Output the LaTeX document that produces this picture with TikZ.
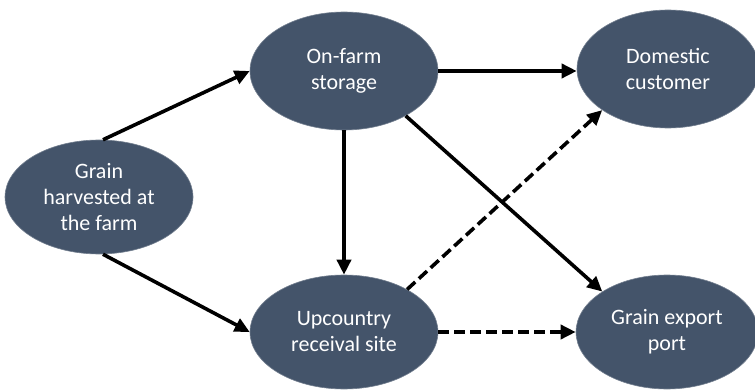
\documentclass[tikz,border=0pt]{standalone}
\usepackage{fontspec}
\setmainfont{Carlito}
\usepackage{xcolor}
\usepackage{tikz}
\usetikzlibrary{arrows.meta,shapes.geometric,calc}
\definecolor{slate}{HTML}{44546A}

\begin{document}
\begin{tikzpicture}[x=1pt,y=1pt, >={Triangle[length=15pt,width=14pt]},
  every node/.style={font=\fontsize{22}{26}\selectfont,align=center},
  stage/.style={ellipse,fill=slate,draw=slate!75!white,line width=0.6pt,text=white,inner sep=0pt,minimum width=188pt,minimum height=116pt},
  flow/.style={->,line width=3.6pt},
  maybe/.style={flow,dash pattern=on 11pt off 5pt}]
\useasboundingbox (0,0) rectangle (755,389);
\node (grain) [stage,minimum height=114pt] at (99,192) {Grain\\harvested at\\the farm};
\node (farm) [stage,minimum height=118pt] at (344,318) {On-farm\\storage};
\node (dom) [stage,minimum width=182pt,minimum height=118pt] at (668,320) {Domestic\\customer};
\node (site) [stage,minimum height=114pt] at (344,57) {Upcountry\\receival site};
\node (port) [stage,minimum width=182pt,minimum height=114pt] at (667,57) {Grain export\\port};
\draw[flow] (grain.86) -- (farm.west);
\draw[flow] (grain.-86) -- (site.west);
\draw[flow] (farm.east) -- (farm.east -| dom.west);
\draw[flow] (farm.south) -- (site.north);
\draw[flow] (farm.-36) -- (port.148);
\draw[maybe] (site.34) -- (dom.-148);
\draw[maybe] (site.east) -- (port.west);
\end{tikzpicture}
\end{document}
